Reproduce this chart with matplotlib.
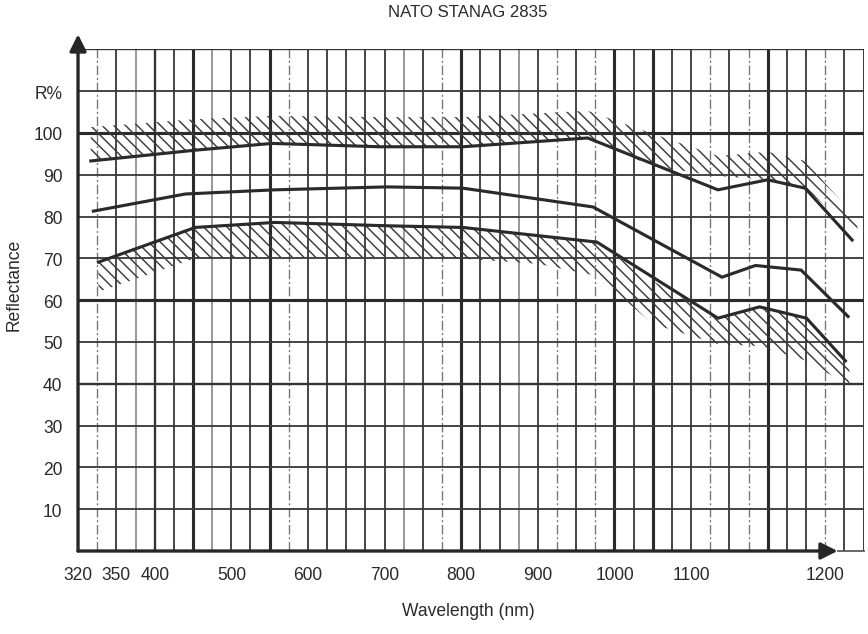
import numpy as np
import matplotlib

matplotlib.use("Agg")
import matplotlib.pyplot as plt
from matplotlib.lines import Line2D

plt.rcParams["font.family"] = ["Liberation Sans", "DejaVu Sans"]
plt.rcParams["hatch.linewidth"] = 0.75

# Reflectance curves: wavelength (nm) / reflectance (%)
upper_nm = [330, 454, 553, 694, 802, 965, 1120, 1157, 1185, 1220]
upper_r = [93.3, 95.9, 97.5, 96.7, 96.7, 98.8, 86.4, 88.8, 86.8, 74.4]
middle_nm = [332, 440, 557, 703, 802, 972, 1123, 1148, 1182, 1217]
middle_r = [81.3, 85.4, 86.4, 87.1, 86.8, 82.3, 65.5, 68.3, 67.2, 56.1]
lower_nm = [336, 453, 557, 703, 802, 977, 1120, 1151, 1186, 1215]
lower_r = [69.1, 77.4, 78.6, 77.8, 77.4, 73.9, 55.7, 58.4, 55.7, 45.5]

# Hatched tolerance bands
top_band_nm = [330, 454, 553, 694, 802, 965, 1050, 1120, 1157, 1185, 1224]
top_band_lo = [93.3, 95.9, 97.5, 96.7, 96.7, 98.8, 92.0, 89.7, 88.8, 86.8, 76.0]
top_band_hi = [101.4, 103.3, 104.1, 103.8, 103.8, 105.3, 99.8, 94.5, 95.5, 93.3, 79.4]
bot_band_nm = [336, 453, 557, 703, 802, 900, 977, 1050, 1120, 1151, 1186, 1218]
bot_band_hi = [69.1, 77.4, 78.6, 77.8, 77.4, 75.4, 73.9, 64.6, 55.7, 58.4, 55.7, 44.5]
bot_band_lo = [62.0, 70.0, 70.3, 70.3, 69.9, 68.7, 65.8, 54.3, 49.5, 49.0, 45.5, 39.5]

x_ticks = [320, 350, 400, 500, 600, 700, 800, 900, 1000, 1100, 1200]
y_ticks = [10, 20, 30, 40, 50, 60, 70, 80, 90, 100, 110]
y_ticklabels = ["10", "20", "30", "40", "50", "60", "70", "80", "90", "100", "R%"]

# The printed wavelength axis is not uniform: map nm onto grid columns.
SCALE_NM = [320, 350, 1100, 1200]
SCALE_COL = [0, 2, 32, 39]
N_COLS = 41


def nm_to_col(x):
    x = np.asarray(x, dtype=float)
    col = np.interp(x, SCALE_NM, SCALE_COL)
    col = np.where(x > 1200, 39 + (x - 1200) * 0.07, col)
    col = np.where(x < 320, (x - 320) / 15.0, col)
    return col


def col_to_nm(c):
    c = np.asarray(c, dtype=float)
    x = np.interp(c, SCALE_COL, SCALE_NM)
    x = np.where(c > 39, 1200 + (c - 39) / 0.07, x)
    x = np.where(c < 0, 320 + c * 15.0, x)
    return x


LINE_STYLES = {
    "t": dict(color="#2b2b2b", lw=1.6),
    "m": dict(color="#333333", lw=1.2),
    "d": dict(color="#3a3a3a", lw=0.95),
    "g": dict(color="#8c8c8c", lw=0.9),
    "s": dict(color="#777777", lw=0.7, dashes=(7, 2, 1.5, 2)),
}
col_styles = "sdgmdtgddt" "sdddddgdst" "ddgdsdstdt" "ddsdstddsd"
row_styles = {10: "d", 20: "d", 30: "d", 40: "m", 50: "d", 60: "t",
              70: "d", 80: "d", 90: "d", 100: "t", 110: "d", 120: "m"}

fig = plt.figure(figsize=(6.2, 4.5357), dpi=140)
ax = fig.add_axes([0.0899, 0.1307, 0.905, 0.79])
ax.set_xscale("function", functions=(nm_to_col, col_to_nm))
ax.set_xlim(320, float(col_to_nm(N_COLS)))
ax.set_ylim(0, 120)
for sp in ax.spines.values():
    sp.set_visible(False)

# grid
for k, code in enumerate(col_styles, start=1):
    ax.axvline(float(col_to_nm(k)), zorder=1, **LINE_STYLES[code])
ax.axvline(float(col_to_nm(N_COLS)), color="#3a3a3a", lw=1.0, zorder=1)
for yv, code in row_styles.items():
    ax.axhline(yv, zorder=1, **LINE_STYLES[code])

# tolerance bands
ax.fill_between(top_band_nm, top_band_lo, top_band_hi, facecolor="none",
                edgecolor="#3c3c3c", hatch="\\\\\\\\", lw=0, zorder=2)
ax.fill_between(bot_band_nm, bot_band_lo, bot_band_hi, facecolor="none",
                edgecolor="#3c3c3c", hatch="\\\\\\\\", lw=0, zorder=2)

# reflectance curves
for xs, ys in [(upper_nm, upper_r), (middle_nm, middle_r), (lower_nm, lower_r)]:
    ax.plot(xs, ys, color="#2a2a2a", lw=1.6, solid_joinstyle="miter", zorder=3)

# axes with arrow heads
arrow = dict(arrowstyle="-|>,head_length=0.4,head_width=0.2", color="#262626",
             lw=1.7, shrinkA=0, shrinkB=0, mutation_scale=18)
ax.annotate("", xy=(0, 1.03), xytext=(0, 0), xycoords="axes fraction",
            arrowprops=arrow, annotation_clip=False, zorder=5)
ax.annotate("", xy=(0.967, 0), xytext=(0, 0), xycoords="axes fraction",
            arrowprops=arrow, annotation_clip=False, zorder=5)
ax.add_line(Line2D([0.967, 1.0], [0, 0], transform=ax.transAxes,
                   color="#555555", lw=0.9, zorder=4, clip_on=False))

ax.set_xticks(x_ticks)
ax.set_xticklabels([str(v) for v in x_ticks])
ax.set_yticks(y_ticks)
ax.set_yticklabels(y_ticklabels)
ax.xaxis.set_minor_locator(matplotlib.ticker.NullLocator())
ax.tick_params(axis="x", length=0, pad=7.5, labelsize=9, labelcolor="#2a2a2a")
ax.tick_params(axis="y", length=0, pad=8, labelsize=9, labelcolor="#2a2a2a")

fig.text(468 / 868, 1 - 13 / 635, "NATO STANAG 2835", ha="center", va="center",
         fontsize=8.6, color="#2a2a2a")
fig.text(468 / 868, 1 - 612 / 635, "Wavelength (nm)", ha="center", va="center",
         fontsize=9, color="#2a2a2a")
fig.text(14 / 868, 1 - 285 / 635, "Reflectance", ha="center", va="center",
         rotation=90, fontsize=9, color="#2a2a2a")

fig.savefig("out.png", dpi=140)
